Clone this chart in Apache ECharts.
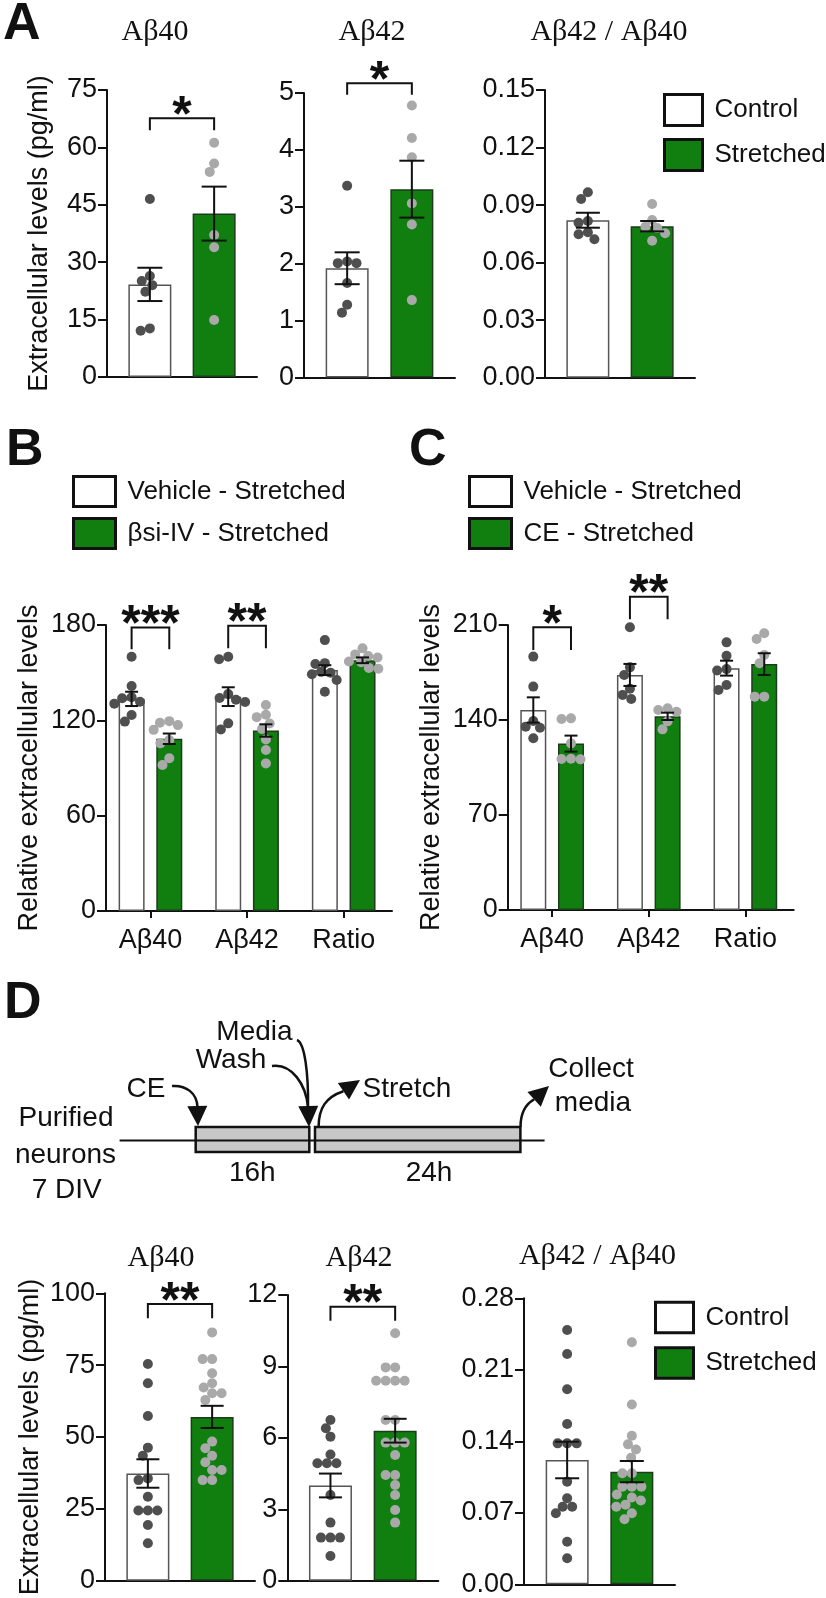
<!DOCTYPE html>
<html><head><meta charset="utf-8">
<script src="https://cdn.jsdelivr.net/npm/echarts@6/dist/echarts.min.js"></script>
<style>html,body{margin:0;padding:0;background:#fff}#c{width:826px;height:1598px}</style>
</head><body><div id="c"></div>
<script>
// ---------------- DATA ----------------
// Panel A
const A_A40_ticks = [0, 15, 30, 45, 60, 75];
const A_A40_control = [46.5, 26.4, 25.1, 24.0, 22.3, 12.7, 12.1];
const A_A40_stretched = [61.2, 55.8, 53.6, 37.1, 33.9, 14.9];
const A_A40_mean = [24.2, 42.7];
const A_A40_sem = [4.35, 7.05];
const A_A40_sig = {top: 67.6, leg: 64.5, label: '*'};

const A_A42_ticks = [0, 1, 2, 3, 4, 5];
const A_A42_control = [3.37, 2.04, 2.01, 2.01, 1.66, 1.14, 1.28];
const A_A42_stretched = [4.78, 4.21, 3.87, 3.06, 2.69, 1.36];
const A_A42_mean = [1.92, 3.31];
const A_A42_sem = [0.28, 0.50];
const A_A42_sig = {top: 5.17, leg: 4.97, label: '*'};

const A_ratio_ticks = [0, 0.03, 0.06, 0.09, 0.12, 0.15];
const A_ratio_control = [0.0967, 0.0932, 0.0817, 0.0808, 0.0758, 0.0748, 0.0722];
const A_ratio_stretched = [0.0906, 0.0822, 0.0787, 0.0780, 0.0753, 0.0714];
const A_ratio_mean = [0.0821, 0.0790];
const A_ratio_sem = [0.0039, 0.0027];

// Panel B
const B_categories = ['Aβ40', 'Aβ42', 'Ratio'];
const B_ticks = [0, 60, 120, 180];
const B_vehicle_points = [
  [160.0, 141.6, 134.5, 133.9, 131.7, 130.5, 123.4, 119.2],
  [160.0, 158.4, 136.5, 134.0, 133.0, 131.5, 118.1, 114.3],
  [170.5, 156.0, 155.5, 150.5, 150.0, 149.0, 145.4, 138.0]];
const B_bsi_points = [
  [119.5, 118.5, 117.0, 114.0, 107.6, 105.5, 96.1, 91.9],
  [129.6, 123.5, 122.0, 118.0, 114.5, 108.0, 101.3, 92.9],
  [165.3, 161.5, 160.5, 159.5, 157.0, 156.5, 153.0, 152.5]];
const B_vehicle_mean = [133.5, 134.9, 151.6];
const B_vehicle_sem = [4.5, 5.9, 3.1];
const B_bsi_mean = [108.4, 113.6, 157.8];
const B_bsi_sem = [3.3, 3.9, 1.8];
const B_sig = [{g: 0, top: 178.5, leg: 164.7, label: '***'}, {g: 1, top: 179.6, leg: 165.3, label: '**'}];

// Panel C
const C_categories = ['Aβ40', 'Aβ42', 'Ratio'];
const C_ticks = [0, 70, 140, 210];
const C_vehicle_points = [
  [186.7, 164.6, 139.3, 135.1, 134.3, 126.5],
  [208.3, 178.8, 173.2, 163.0, 158.5, 155.5],
  [197.2, 187.4, 177.5, 176.5, 165.8, 162.1]];
const C_ce_points = [
  [141.2, 140.7, 122.8, 111.5, 111.3, 111.0],
  [148.6, 147.4, 146.0, 139.0, 133.1],
  [203.9, 199.7, 187.9, 181.8, 157.2, 157.2]];
const C_vehicle_mean = [147.4, 173.2, 178.2];
const C_vehicle_sem = [9.3, 8.1, 5.5];
const C_ce_mean = [122.6, 142.7, 181.2];
const C_ce_sem = [5.9, 2.7, 8.0];
const C_sig = [{g: 0, top: 208.3, leg: 191.6, label: '*'}, {g: 1, top: 230.9, leg: 214.2, label: '**'}];

// Panel D
const D_A40_ticks = [0, 25, 50, 75, 100];
const D_A40_control = [75.4, 68.7, 57.3, 46.3, 43.5, 35.6, 35.0, 29.2, 24.4, 24.4, 24.4, 19.4, 13.0];
const D_A40_stretched = [86.4, 77.1, 77.1, 72.2, 68.7, 67.2, 65.2, 65.2, 62.9, 48.4, 46.1, 43.5, 41.2, 38.5, 38.5, 35.0, 35.0];
const D_A40_mean = [37.3, 57.0];
const D_A40_sem = [4.95, 3.85];
const D_A40_sig = {top: 96.3, leg: 91.3, label: '**'};

const D_A42_ticks = [0, 3, 6, 9, 12];
const D_A42_control = [6.75, 6.40, 6.05, 5.30, 4.93, 4.93, 4.93, 3.60, 2.44, 1.81, 1.81, 1.81, 1.04];
const D_A42_stretched = [10.39, 8.96, 8.96, 8.40, 8.40, 8.40, 8.40, 6.75, 6.75, 5.80, 5.80, 5.80, 5.28, 4.44, 4.44, 4.02, 3.60, 2.97, 2.44];
const D_A42_mean = [4.0, 6.3];
const D_A42_sem = [0.5, 0.5];
const D_A42_sig = {top: 11.51, leg: 10.92, label: '**'};

const D_ratio_ticks = [0, 0.07, 0.14, 0.21, 0.28];
const D_ratio_control = [0.249, 0.2255, 0.191, 0.157, 0.138, 0.138, 0.138, 0.1005, 0.0842, 0.076, 0.076, 0.0695, 0.0417, 0.0255];
const D_ratio_stretched = [0.237, 0.176, 0.1455, 0.137, 0.132, 0.124, 0.1087, 0.1087, 0.0956, 0.0956, 0.0956, 0.088, 0.085, 0.082, 0.078, 0.076, 0.0695, 0.0636];
const D_ratio_mean = [0.1217, 0.1103];
const D_ratio_sem = [0.0179, 0.0104];

// ---------------- STYLE ----------------
const FONT = '"Liberation Sans", Arial, sans-serif';
const SERIF = '"Liberation Serif", "Times New Roman", serif';
const INK = '#111';
const GREEN = '#107f10';
const DARK_DOT = '#4f4f4f';
const LIGHT_DOT = '#a9a9a9';
const AX = 27;

function twoBars(mean, sem, ctrl, str) {
  return [{x: 0, mean: mean[0], sem: sem[0], pts: ctrl, kind: 'w'},
          {x: 1, mean: mean[1], sem: sem[1], pts: str, kind: 'g'}];
}
function threeGroups(wm, ws, wp, gm, gs, gp, off) {
  const out = [];
  for (let g = 0; g < 3; g++) {
    out.push({x: g - off, mean: wm[g], sem: ws[g], pts: wp[g], kind: 'w'});
    out.push({x: g + off, mean: gm[g], sem: gs[g], pts: gp[g], kind: 'g'});
  }
  return out;
}
const OFF = 0.195;
const panels = [
  {grid: {left: 107, top: 90, width: 150, height: 287}, ticks: A_A40_ticks, dec: 0, xr: [-0.667, 1.667], barW: 43, cap: 12.5,
   yName: 'Extracellular levels (pg/ml)', nameGap: 54, names: ['Control', 'Stretched'],
   bars: twoBars(A_A40_mean, A_A40_sem, A_A40_control, A_A40_stretched), sig: [Object.assign({x1: 0, x2: 1}, A_A40_sig)]},
  {grid: {left: 304, top: 93, width: 151, height: 284.5}, ticks: A_A42_ticks, dec: 0, xr: [-0.667, 1.667], barW: 43, cap: 12.5,
   names: ['Control', 'Stretched'],
   bars: twoBars(A_A42_mean, A_A42_sem, A_A42_control, A_A42_stretched), sig: [Object.assign({x1: 0, x2: 1}, A_A42_sig)]},
  {grid: {left: 545, top: 90, width: 150, height: 287.7}, ticks: A_ratio_ticks, dec: 2, xr: [-0.667, 1.667], barW: 43, cap: 12,
   names: ['Control', 'Stretched'],
   bars: twoBars(A_ratio_mean, A_ratio_sem, A_ratio_control, A_ratio_stretched), sig: []},
  {grid: {left: 106, top: 625, width: 286, height: 286}, ticks: B_ticks, dec: 0, xr: [-0.46, 2.5], barW: 26, cap: 6.5,
   yName: 'Relative extracellular levels', nameGap: 63, cats: B_categories, names: ['Vehicle - Stretched', 'βsi-IV - Stretched'],
   bars: threeGroups(B_vehicle_mean, B_vehicle_sem, B_vehicle_points, B_bsi_mean, B_bsi_sem, B_bsi_points, OFF),
   sig: B_sig.map(s => ({x1: s.g - OFF, x2: s.g + OFF, top: s.top, leg: s.leg, label: s.label}))},
  {grid: {left: 507.7, top: 625, width: 286, height: 285}, ticks: C_ticks, dec: 0, xr: [-0.46, 2.5], barW: 26, cap: 6.5,
   yName: 'Relative extracellular levels', nameGap: 63, cats: C_categories, names: ['Vehicle - Stretched', 'CE - Stretched'],
   bars: threeGroups(C_vehicle_mean, C_vehicle_sem, C_vehicle_points, C_ce_mean, C_ce_sem, C_ce_points, OFF),
   sig: C_sig.map(s => ({x1: s.g - OFF, x2: s.g + OFF, top: s.top, leg: s.leg, label: s.label}))},
  {grid: {left: 105, top: 1293.3, width: 150, height: 287.4}, ticks: D_A40_ticks, dec: 0, xr: [-0.667, 1.667], barW: 43, cap: 11.5,
   yName: 'Extracellular levels (pg/ml)', nameGap: 61, names: ['Control', 'Stretched'],
   bars: twoBars(D_A40_mean, D_A40_sem, D_A40_control, D_A40_stretched), sig: [Object.assign({x1: 0, x2: 1}, D_A40_sig)]},
  {grid: {left: 287.3, top: 1295, width: 151, height: 285.7}, ticks: D_A42_ticks, dec: 0, xr: [-0.667, 1.667], barW: 43, cap: 11.5,
   names: ['Control', 'Stretched'],
   bars: twoBars(D_A42_mean, D_A42_sem, D_A42_control, D_A42_stretched), sig: [Object.assign({x1: 0, x2: 1}, D_A42_sig)]},
  {grid: {left: 524, top: 1298.3, width: 151, height: 286}, ticks: D_ratio_ticks, dec: 2, xr: [-0.667, 1.667], barW: 43, cap: 12,
   names: ['Control', 'Stretched'],
   bars: twoBars(D_ratio_mean, D_ratio_sem, D_ratio_control, D_ratio_stretched), sig: []}
];

// beeswarm offsets (pixels) so dots do not overlap
function swarmOffsets(vals, pxPerY, dist) {
  const order = vals.map((v, i) => i).sort((a, b) => vals[b] - vals[a]);
  const placed = [];
  const out = new Array(vals.length).fill(0);
  order.forEach(i => {
    const y = vals[i] * pxPerY;
    const iv = [];
    placed.forEach(p => {
      const dy = Math.abs(p.y - y);
      if (dy < dist) { const dx = Math.sqrt(dist * dist - dy * dy); iv.push([p.x - dx, p.x + dx]); }
    });
    const cands = [0];
    iv.forEach(r => cands.push(r[0], r[1]));
    cands.sort((a, b) => (Math.abs(a) - Math.abs(b)) || (a - b));
    let x = 0;
    for (const c of cands) {
      if (iv.every(r => c <= r[0] + 1e-6 || c >= r[1] - 1e-6)) { x = c; break; }
    }
    out[i] = x;
    placed.push({x, y});
  });
  return out;
}

function errRender(cap) {
  return function (params, api) {
    const x = api.value(0), m = api.value(1), s = api.value(2);
    const t = api.coord([x, m + s]), b = api.coord([x, m - s]);
    const cx = t[0];
    const st = {stroke: INK, lineWidth: 2};
    return {type: 'group', children: [
      {type: 'line', shape: {x1: cx, y1: t[1], x2: cx, y2: b[1]}, style: st},
      {type: 'line', shape: {x1: cx - cap, y1: t[1], x2: cx + cap, y2: t[1]}, style: st},
      {type: 'line', shape: {x1: cx - cap, y1: b[1], x2: cx + cap, y2: b[1]}, style: st}
    ]};
  };
}
function sigRender(list) {
  return function (params, api) {
    const s = list[params.dataIndex];
    const p1 = api.coord([s.x1, s.leg]), p2 = api.coord([s.x1, s.top]);
    const p3 = api.coord([s.x2, s.top]), p4 = api.coord([s.x2, s.leg]);
    return {type: 'group', children: [
      {type: 'polyline', shape: {points: [p1, p2, p3, p4]}, style: {stroke: INK, lineWidth: 2, fill: null}},
      {type: 'text', style: {text: s.label, x: (p2[0] + p3[0]) / 2, y: p2[1] - 1,
        font: 'bold 50px ' + FONT, fill: INK, align: 'center', verticalAlign: 'middle'}}
    ]};
  };
}

const option = {animation: false, backgroundColor: '#fff', textStyle: {fontFamily: FONT},
  grid: [], xAxis: [], yAxis: [], series: [], legend: [], graphic: []};

panels.forEach((p, i) => {
  const ymax = p.ticks[p.ticks.length - 1];
  const step = p.ticks[1] - p.ticks[0];
  option.grid.push(Object.assign({containLabel: false}, p.grid));
  const catVals = p.cats ? p.cats.map((c, k) => k) : null;
  option.xAxis.push({type: 'value', gridIndex: i, min: p.xr[0], max: p.xr[1],
    axisLine: {show: true, onZero: false, lineStyle: {color: INK, width: 2}},
    axisTick: p.cats ? {show: true, customValues: catVals, length: 7, lineStyle: {color: INK, width: 2}} : {show: false},
    axisLabel: p.cats ? {show: true, customValues: catVals, formatter: v => p.cats[Math.round(v)],
      fontSize: AX, color: INK, fontFamily: FONT, margin: 16} : {show: false},
    splitLine: {show: false}});
  const ya = {type: 'value', gridIndex: i, min: 0, max: ymax, interval: step,
    axisLine: {show: true, onZero: false, lineStyle: {color: INK, width: 2}},
    axisTick: {show: true, length: 9, lineStyle: {color: INK, width: 2}},
    axisLabel: {fontSize: AX, color: INK, fontFamily: FONT, margin: 10, formatter: v => v.toFixed(p.dec)},
    splitLine: {show: false}};
  if (p.yName) {
    Object.assign(ya, {name: p.yName, nameLocation: 'middle', nameGap: p.nameGap,
      nameTextStyle: {fontSize: AX, color: INK, fontFamily: FONT}});
  }
  option.yAxis.push(ya);

  const pxPerY = p.grid.height / ymax;
  const pxPerX = p.grid.width / (p.xr[1] - p.xr[0]);
  const W = p.bars.filter(b => b.kind === 'w');
  const G = p.bars.filter(b => b.kind === 'g');
  option.series.push({type: 'bar', name: p.names[0], xAxisIndex: i, yAxisIndex: i, barWidth: p.barW, barGap: '-100%',
    data: W.map(b => [b.x, b.mean]), itemStyle: {color: '#fff', borderColor: '#555', borderWidth: 1.5}, z: 2, silent: true});
  option.series.push({type: 'bar', name: p.names[1], xAxisIndex: i, yAxisIndex: i, barWidth: p.barW, barGap: '-100%',
    data: G.map(b => [b.x, b.mean]), itemStyle: {color: GREEN, borderColor: '#1d3b1d', borderWidth: 1.5}, z: 2, silent: true});
  [['w', DARK_DOT], ['g', LIGHT_DOT]].forEach(([kind, col]) => {
    const data = [];
    p.bars.filter(b => b.kind === kind).forEach(b => {
      const off = swarmOffsets(b.pts, pxPerY, 9.5);
      b.pts.forEach((v, k) => data.push([b.x + off[k] / pxPerX, v]));
    });
    option.series.push({type: 'scatter', xAxisIndex: i, yAxisIndex: i, data, symbolSize: 10,
      itemStyle: {color: col, opacity: 1}, z: 3, silent: true});
  });
  option.series.push({type: 'custom', xAxisIndex: i, yAxisIndex: i, renderItem: errRender(p.cap),
    data: p.bars.map(b => [b.x, b.mean, b.sem]), encode: {x: 0, y: 1}, z: 5, silent: true});
  if (p.sig.length) {
    option.series.push({type: 'custom', xAxisIndex: i, yAxisIndex: i, renderItem: sigRender(p.sig), clip: false,
      data: p.sig.map(s => [s.x1, s.top]), encode: {x: 0, y: 1}, z: 5, silent: true});
  }
});

// legends
function legend(left, top, w, h, gap, names) {
  return {left, top, orient: 'vertical', itemWidth: w, itemHeight: h, itemGap: gap, padding: 0, icon: 'rect',
    selectedMode: false, data: names,
    itemStyle: {borderColor: INK, borderWidth: 3},
    textStyle: {fontSize: 26, fontFamily: FONT, color: INK, padding: [0, 0, 0, 7]}};
}
option.legend.push(legend(663, 93, 38, 31, 11, ['Control', 'Stretched']));
option.legend.push(legend(72, 475, 42, 30, 9, ['Vehicle - Stretched', 'βsi-IV - Stretched']));
option.legend.push(legend(468, 475, 42, 30, 9, ['Vehicle - Stretched', 'CE - Stretched']));
option.legend.push(legend(654, 1300.7, 38, 30.5, 12, ['Control', 'Stretched']));

// titles, panel letters, timeline diagram
const gfx = option.graphic;
function txt(text, x, y, font, align) {
  gfx.push({type: 'text', x, y, silent: true,
    style: {text, font, fill: INK, align: align || 'center', verticalAlign: 'middle'}});
}
const TF = '30px ' + SERIF;
txt('Aβ40', 155, 32, TF); txt('Aβ42', 372, 32, TF); txt('Aβ42 / Aβ40', 609, 32, TF);
txt('Aβ40', 161, 1258, TF); txt('Aβ42', 359, 1258, TF); txt('Aβ42 / Aβ40', 597.5, 1256, TF);
const LF = 'bold 52px ' + FONT;
txt('A', 3, 25, LF, 'left'); txt('B', 6, 451, LF, 'left'); txt('C', 409, 451, LF, 'left'); txt('D', 4, 1004, LF, 'left');

const DF = '28px ' + FONT;
txt('Purified', 66, 1118, DF); txt('neurons', 65.5, 1155, DF); txt('7 DIV', 66.7, 1190, DF);
txt('16h', 252.3, 1173, DF); txt('24h', 429, 1173, DF);
txt('CE', 146, 1089, DF); txt('Media', 254.5, 1032, DF); txt('Wash', 231, 1060, DF);
txt('Stretch', 362.5, 1089, DF, 'left'); txt('Collect', 591, 1069, DF); txt('media', 593, 1103, DF);

gfx.push({type: 'rect', shape: {x: 195.7, y: 1127, width: 113.6, height: 25}, style: {fill: '#c8c8c8', stroke: INK, lineWidth: 2.5}, z: 1});
gfx.push({type: 'rect', shape: {x: 315, y: 1127, width: 205.4, height: 25}, style: {fill: '#c8c8c8', stroke: INK, lineWidth: 2.5}, z: 1});
gfx.push({type: 'line', shape: {x1: 119.6, y1: 1140.5, x2: 544.6, y2: 1140.5}, style: {stroke: INK, lineWidth: 2}, z: 2});

function curve(x1, y1, c1x, c1y, c2x, c2y, x2, y2) {
  gfx.push({type: 'bezierCurve', shape: {x1, y1, cpx1: c1x, cpy1: c1y, cpx2: c2x, cpy2: c2y, x2, y2},
    style: {stroke: INK, lineWidth: 2.5, fill: null}, z: 2});
}
function head(tx, ty, angDeg, len, hw) {
  const a = angDeg * Math.PI / 180;
  const dx = Math.cos(a), dy = -Math.sin(a);
  const bx = tx - len * dx, by = ty - len * dy;
  const nx = -dy, ny = dx;
  gfx.push({type: 'polygon', shape: {points: [[tx, ty], [bx + hw * nx, by + hw * ny], [bx - hw * nx, by - hw * ny]]},
    style: {fill: INK}, z: 2});
}
// CE arrow
curve(172, 1086, 186, 1085, 197, 1093, 197.5, 1107);
head(198, 1126, -88, 20, 10);
// Media / Wash arrows
curve(297, 1040, 305, 1043, 308.5, 1075, 308, 1107);
curve(272, 1066, 292, 1063, 306, 1085, 308, 1107);
head(309, 1127, -88, 21, 10);
// Stretch arrow
curve(318.6, 1127, 318.6, 1108, 326, 1097, 343.4, 1091.2);
head(360, 1080, 34, 20, 10);
// Collect arrow
curve(520.5, 1127, 520.5, 1112, 526, 1104, 534.1, 1099.4);
head(549, 1086, 42, 20, 10);

const chart = echarts.init(document.getElementById('c'), null, {renderer: 'canvas'});
chart.setOption(option);
</script></body></html>
